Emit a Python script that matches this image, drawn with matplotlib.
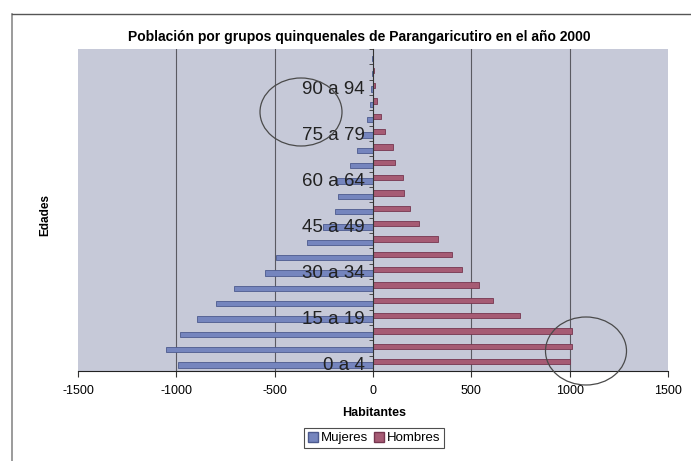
import matplotlib
matplotlib.use("Agg")
import matplotlib.pyplot as plt
from matplotlib.patches import Ellipse, Patch
from matplotlib.lines import Line2D
import numpy as np

plt.rcParams["font.family"] = ["Liberation Sans", "DejaVu Sans"]

# quinquennial age groups, youngest first
grupos = ["0 a 4", "5 a 9", "10 a 14", "15 a 19", "20 a 24", "25 a 29", "30 a 34",
          "35 a 39", "40 a 44", "45 a 49", "50 a 54", "55 a 59", "60 a 64", "65 a 69",
          "70 a 74", "75 a 79", "80 a 84", "85 a 89", "90 a 94", "95 a 99", "100 y más"]
mujeres = [-990, -1055, -980, -895, -800, -705, -550, -495, -335, -255, -195,
           -178, -182, -117, -80, -55, -32, -15, -10, -5, -3]
hombres = [1000, 1010, 1010, 745, 610, 540, 455, 400, 330, 235, 188,
           160, 155, 110, 100, 60, 42, 18, 10, 5, 2]
xticks = [-1500, -1000, -500, 0, 500, 1000, 1500]

W, H = 691, 461
fig = plt.figure(figsize=(W / 100, H / 100), dpi=100)
ax = fig.add_axes([78 / W, 1 - 371 / H, 590 / W, 322 / H])
ax.set_facecolor("#c6c9d8")

y = np.arange(len(grupos))
ax.barh(y - 0.11, mujeres, height=0.34, color="#7585be", edgecolor="#4c5a8e",
        linewidth=0.6, zorder=1)
ax.barh(y + 0.11, hombres, height=0.34, color="#a65b74", edgecolor="#76364f",
        linewidth=0.6, zorder=1)

for gx in xticks[1:-1]:
    if gx != 0:
        ax.axvline(gx, color="#5a5a62", lw=0.8, zorder=0.5)

ax.set_xlim(-1500, 1500)
ax.set_ylim(-0.5, len(grupos) - 0.5)

ax.spines["top"].set_visible(False)
ax.spines["right"].set_visible(False)
ax.spines["left"].set_position(("data", 0))
ax.spines["left"].set_color("#333333")
ax.spines["bottom"].set_color("#222222")

ax.set_xticks(xticks)
ax.set_xticklabels([str(v) for v in xticks], fontsize=9)
ax.tick_params(axis="x", length=4, pad=6, color="#333333")

ax.set_yticks(y[::3])
ax.set_yticklabels(grupos[::3], fontsize=13.5, color="#222222")
ax.set_yticks(np.arange(-0.5, len(grupos), 1), minor=True)
ax.tick_params(axis="y", which="major", length=0, pad=6)
ax.tick_params(axis="y", which="minor", length=3, color="#333333")

fig.text(359 / W, 1 - 37 / H,
         "Población por grupos quinquenales de Parangaricutiro en el año 2000",
         ha="center", va="center", fontsize=10, fontweight="bold")
fig.text(374 / W, 1 - 413 / H, "Habitantes", ha="center", va="center",
         fontsize=9, fontweight="bold")
fig.text(45 / W, 1 - 215 / H, "Edades", ha="center", va="center",
         rotation=90, fontsize=8.5, fontweight="bold")

handles = [Patch(facecolor="#7585be", edgecolor="#4c5a8e", label="Mujeres"),
           Patch(facecolor="#a65b74", edgecolor="#76364f", label="Hombres")]
leg = fig.legend(handles=handles, loc="center", bbox_to_anchor=(374 / W, 1 - 438 / H),
                 ncol=2, fontsize=9.5, frameon=True, fancybox=False,
                 handlelength=0.8, handleheight=0.8, handletextpad=0.2,
                 columnspacing=0.4, borderpad=0.3, borderaxespad=0)
leg.get_frame().set_edgecolor("#222222")
leg.get_frame().set_linewidth(0.8)

# pen circles marked on the chart
for cx, cy, ew, eh in [(301, 112, 82, 68), (586, 351, 81, 68)]:
    fig.add_artist(Ellipse((cx / W, 1 - cy / H), ew / W, eh / H, fill=False,
                           edgecolor="#4a4a4a", lw=0.9, transform=fig.transFigure))

# chart frame
fig.add_artist(Line2D([12 / W, 12 / W], [0, 1 - 14 / H], color="#8a8a8a", lw=1.2))
fig.add_artist(Line2D([12 / W, 1], [1 - 14 / H, 1 - 14 / H], color="#555555", lw=1.0))

fig.savefig("out.png", dpi=100)
